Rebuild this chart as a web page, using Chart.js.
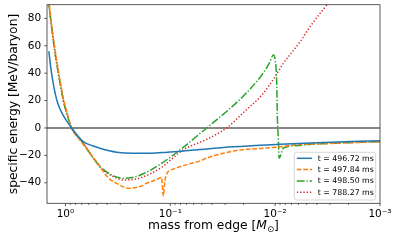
<!DOCTYPE html>
<html><head><meta charset="utf-8">
<script src="https://cdn.jsdelivr.net/npm/chart.js@4/dist/chart.umd.min.js"></script>
<style>html,body{margin:0;padding:0;background:#fff}canvas{display:block}</style>
</head><body>
<canvas id="c" width="399" height="240"></canvas>
<script>
// ---- data ----
const seriesLabels = ['t = 496.72 ms', 't = 497.84 ms', 't = 498.50 ms', 't = 788.27 ms'];

const massBlue   = [1.44, 1.37, 1.29, 1.21, 1.13, 1.05, 0.96, 0.873, 0.676, 0.55, 0.469, 0.325, 0.227, 0.156, 0.107, 0.0752, 0.052, 0.0312, 0.0139, 0.009, 0.004, 0.001];
const energyBlue = [56, 42, 30, 20.4, 14, 9.2, 4.4, 0, -10, -13, -14.8, -17.7, -18.5, -18.5, -17.7, -16.8, -15.8, -14.2, -12.7, -11.9, -10.8, -9.3];

const massOrange   = [1.5, 1.437, 1.345, 1.259, 1.179, 1.104, 1.05, 0.968, 0.873, 0.727, 0.584, 0.469, 0.436, 0.376, 0.325, 0.252, 0.195, 0.168, 0.145, 0.125, 0.121, 0.1167, 0.1124, 0.1074, 0.1007, 0.0936, 0.0752, 0.0521, 0.045, 0.0312, 0.0216, 0.0139, 0.00835, 0.0067, 0.004, 0.001];
const energyOrange = [104, 92, 73.5, 57.5, 43.5, 31, 22, 11.5, 0, -8.8, -18.5, -28, -31.9, -37.5, -40.4, -44, -42.8, -40.4, -38.5, -36.5, -36, -49.6, -38, -33, -31, -30, -27.5, -24, -22, -18.5, -16, -15, -13.5, -12.4, -11.7, -10];

const massGreen   = [1.5, 1.437, 1.345, 1.259, 1.179, 1.104, 1.05, 0.968, 0.873, 0.676, 0.543, 0.469, 0.35, 0.271, 0.195, 0.125, 0.0808, 0.045, 0.028, 0.0197, 0.0134, 0.0114, 0.0104, 0.0100, 0.00966, 0.00953, 0.00931, 0.00918, 0.00835, 0.0067, 0.004, 0.001];
const energyGreen = [102, 90, 71.6, 55.5, 41.6, 29.2, 20.4, 10.2, 0, -11.2, -22, -28, -35, -36.7, -34.5, -26.5, -16, 0, 13.1, 24, 38.7, 47.2, 53.3, 49.6, 32.6, 8.2, -8.8, -22, -14.8, -13.1, -11.7, -10];

const massRed   = [1.5, 1.437, 1.345, 1.259, 1.179, 1.104, 1.05, 0.968, 0.873, 0.676, 0.543, 0.469, 0.35, 0.271, 0.195, 0.125, 0.0752, 0.045, 0.0363, 0.029, 0.0197, 0.0134, 0.0100, 0.00837, 0.00721, 0.00578, 0.00464, 0.00373, 0.0032, 0.0028];
const energyRed = [101, 89.5, 71, 55, 41.2, 29, 20.2, 10.1, 0, -11.2, -22, -28.5, -35.5, -38, -36.5, -29.4, -16, -8.3, -4.6, 0, 11.9, 24, 37.5, 47.2, 53.5, 63, 74, 83.7, 90, 96];

const xTickValues = [1, 0.9, 0.8, 0.7, 0.6, 0.5, 0.4, 0.3, 0.2, 0.1, 0.09, 0.08, 0.07, 0.06, 0.05, 0.04, 0.03, 0.02, 0.01, 0.009, 0.008, 0.007, 0.006, 0.005, 0.004, 0.003, 0.002, 0.001];
const xMajorLabels = {'0': '10⁰', '-1': '10⁻¹', '-2': '10⁻²', '-3': '10⁻³'};
const yTickValues = [-40, -20, 0, 20, 40, 60, 80];
const xRange = [0.001, 1.5];
const yRange = [-55, 90];

// ---- helpers ----
const FONT = 'DejaVu Sans';
function pts(ms, es) { return ms.map((m, i) => ({x: m, y: es[i]})); }
function isMajor(v) { const l = Math.log10(v); return Math.abs(l - Math.round(l)) < 1e-9; }

const styles = [
  {color: '#1f77b4', dash: []},
  {color: '#ff7f0e', dash: [4.6, 1.9]},
  {color: '#2ca02c', dash: [7.8, 1.9, 1.3, 1.9]},
  {color: '#d62728', dash: [1.3, 2.0]}
];
const LW = 1.5;
const allData = [pts(massBlue, energyBlue), pts(massOrange, energyOrange), pts(massGreen, energyGreen), pts(massRed, energyRed)];

const datasets = allData.map((d, i) => ({
  label: seriesLabels[i],
  data: d,
  borderColor: styles[i].color,
  backgroundColor: styles[i].color,
  borderDash: styles[i].dash,
  borderWidth: LW,
  pointRadius: 0,
  fill: false,
  cubicInterpolationMode: 'monotone',
  clip: 0
}));

const decorPlugin = {
  id: 'decor',
  beforeDatasetsDraw(chart) {
    const {ctx, chartArea: a, scales} = chart;
    const y0 = scales.y.getPixelForValue(0);
    ctx.save();
    ctx.strokeStyle = '#111';
    ctx.lineWidth = 1.1;
    ctx.beginPath();
    ctx.moveTo(a.left, y0); ctx.lineTo(a.right, y0);
    ctx.stroke();
    ctx.restore();
  },
  afterDraw(chart) {
    const {ctx, chartArea: a, scales} = chart;
    ctx.save();
    // spines
    ctx.strokeStyle = '#333';
    ctx.lineWidth = 0.8;
    ctx.strokeRect(a.left, a.top, a.right - a.left, a.bottom - a.top);
    // tick marks
    ctx.beginPath();
    scales.x.ticks.forEach(t => {
      const px = scales.x.getPixelForValue(t.value);
      const len = isMajor(t.value) ? 2.8 : 1.6;
      ctx.moveTo(px, a.bottom); ctx.lineTo(px, a.bottom + len);
    });
    scales.y.ticks.forEach(t => {
      const py = scales.y.getPixelForValue(t.value);
      ctx.moveTo(a.left, py); ctx.lineTo(a.left - 2.8, py);
    });
    ctx.stroke();

    // axis titles
    ctx.fillStyle = '#000';
    const ts = 12.3;
    const parts = [
      {t: 'mass from edge [', f: `${ts}px "${FONT}"`, dy: 0},
      {t: 'M', f: `italic ${ts}px "${FONT}"`, dy: 0},
      {t: '⊙', f: `${ts * 0.7}px "${FONT}"`, dy: 2.6},
      {t: ']', f: `${ts}px "${FONT}"`, dy: 0}
    ];
    let total = 0;
    parts.forEach(p => { ctx.font = p.f; p.w = ctx.measureText(p.t).width; total += p.w; });
    let x = (a.left + a.right) / 2 - total / 2;
    ctx.textBaseline = 'alphabetic';
    ctx.textAlign = 'left';
    parts.forEach(p => { ctx.font = p.f; ctx.fillText(p.t, x, 229 + p.dy); x += p.w; });

    ctx.save();
    ctx.translate(16.5, (a.top + a.bottom) / 2);
    ctx.rotate(-Math.PI / 2);
    ctx.font = `${ts}px "${FONT}"`;
    ctx.textAlign = 'center';
    ctx.fillText('specific energy [MeV/baryon]', 0, 0);
    ctx.restore();

    // legend
    const bw = 81.4, bh = 47.7;
    const bx = a.right - 4.3 - bw, by = a.bottom - 3.3 - bh;
    ctx.beginPath();
    if (ctx.roundRect) ctx.roundRect(bx, by, bw, bh, 2.5); else ctx.rect(bx, by, bw, bh);
    ctx.fillStyle = 'rgba(255,255,255,0.8)';
    ctx.fill();
    ctx.strokeStyle = '#cccccc';
    ctx.lineWidth = 0.8;
    ctx.stroke();
    chart.data.datasets.forEach((ds, i) => {
      const ry = by + 6 + i * 11.3;
      ctx.beginPath();
      ctx.setLineDash(ds.borderDash);
      ctx.strokeStyle = ds.borderColor;
      ctx.lineWidth = LW;
      ctx.moveTo(bx + 2.5, ry); ctx.lineTo(bx + 17.8, ry);
      ctx.stroke();
      ctx.setLineDash([]);
      ctx.fillStyle = '#000';
      ctx.font = `7.8px "${FONT}"`;
      ctx.textAlign = 'left';
      ctx.textBaseline = 'middle';
      ctx.fillText(ds.label, bx + 23.5, ry + 0.5);
    });
    ctx.restore();
  }
};

new Chart(document.getElementById('c'), {
  type: 'line',
  data: {datasets},
  plugins: [decorPlugin],
  options: {
    responsive: false,
    animation: false,
    devicePixelRatio: 1,
    layout: {padding: {left: 0, right: 19, top: 4.7, bottom: 0}},
    plugins: {legend: {display: false}, tooltip: {enabled: false}},
    scales: {
      x: {
        type: 'logarithmic',
        reverse: true,
        min: xRange[0], max: xRange[1],
        grid: {display: false, drawTicks: false},
        border: {display: false},
        afterBuildTicks(scale) { scale.ticks = xTickValues.map(v => ({value: v, major: isMajor(v)})); },
        afterFit(scale) { scale.height = 36.7; scale.paddingLeft = 0; scale.paddingRight = 0; },
        ticks: {
          autoSkip: false, maxRotation: 0, minRotation: 0, padding: 5,
          color: '#000', font: {family: FONT, size: 10.5},
          callback(v) {
            if (!isMajor(v)) return '';
            return xMajorLabels[String(Math.round(Math.log10(v)))] || '';
          }
        }
      },
      y: {
        type: 'linear',
        min: yRange[0], max: yRange[1],
        grid: {display: false, drawTicks: false},
        border: {display: false},
        afterBuildTicks(scale) { scale.ticks = yTickValues.map(v => ({value: v})); },
        afterFit(scale) { scale.width = 47; scale.paddingTop = 0; scale.paddingBottom = 0; },
        ticks: {
          padding: 5.8, color: '#000', font: {family: FONT, size: 10.5},
          callback(v) { return String(v).replace('-', '−'); }
        }
      }
    }
  }
});
</script>
</body></html>
